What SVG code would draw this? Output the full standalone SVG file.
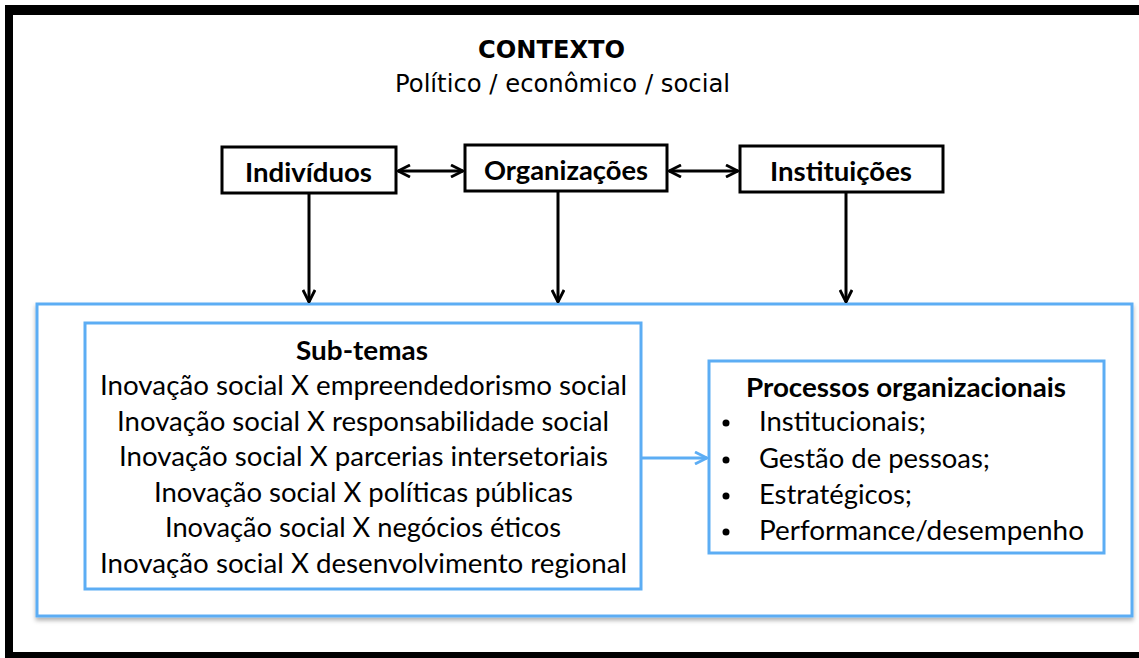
<svg xmlns="http://www.w3.org/2000/svg" width="1139" height="658" viewBox="0 0 1139 658">
<style>
.frame{fill:#000}
.node{fill:#fff;stroke:#000;stroke-width:3}
.blue{fill:#fff;stroke:#5cadf4;stroke-width:3}
.lbl{font-family:Lato,"Open Sans",sans-serif;font-weight:bold;font-size:26px;fill:#000}
.body{font-family:Lato,"Open Sans",sans-serif;font-size:27px;fill:#000}
.head{font-family:"DejaVu Sans",sans-serif;font-size:24px;fill:#000}
.conn{stroke:#000;stroke-width:3;fill:none}
.bconn{stroke:#5cadf4;stroke-width:3;fill:none}
</style>
<defs>
<marker id="ah" viewBox="0 0 14 14" refX="13" refY="7" markerWidth="14" markerHeight="14" markerUnits="userSpaceOnUse" orient="auto-start-reverse">
<path d="M1,1 L13,7 L1,13" fill="none" stroke="#000" stroke-width="2.8"/>
</marker>
<marker id="bh" viewBox="0 0 14 14" refX="13" refY="7" markerWidth="14" markerHeight="14" markerUnits="userSpaceOnUse" orient="auto">
<path d="M1,1 L13,7 L1,13" fill="none" stroke="#5cadf4" stroke-width="2.8"/>
</marker>
<filter id="sh" x="-5%" y="-5%" width="110%" height="115%">
<feDropShadow dx="0" dy="3" stdDeviation="2" flood-color="#000" flood-opacity="0.3"/>
</filter>
</defs>
<rect width="1139" height="658" fill="#fff"/>
<g id="frame">
<rect class="frame" x="5" y="5" width="1134" height="10"/>
<rect class="frame" x="5" y="5" width="8" height="653"/>
<rect class="frame" x="5" y="652" width="1134" height="6"/>
</g>
<g id="contexto">
<text class="head" x="478" y="58" font-weight="bold" textLength="147" lengthAdjust="spacingAndGlyphs">CONTEXTO</text>
<text class="head" x="395" y="92" textLength="335" lengthAdjust="spacingAndGlyphs">Político / econômico / social</text>
</g>
<g id="outer">
<rect class="blue" x="37" y="304" width="1095" height="312" filter="url(#sh)"/>
</g>
<g id="individuos">
<rect class="node" x="222" y="147" width="174" height="46"/>
<text class="lbl" x="245" y="182" textLength="127" lengthAdjust="spacingAndGlyphs">Indivíduos</text>
</g>
<g id="organizacoes">
<rect class="node" x="465" y="145" width="202" height="46"/>
<text class="lbl" x="484" y="180" textLength="164" lengthAdjust="spacingAndGlyphs">Organizações</text>
</g>
<g id="instituicoes">
<rect class="node" x="740" y="146" width="203" height="46"/>
<text class="lbl" x="770" y="181" textLength="142" lengthAdjust="spacingAndGlyphs">Instituições</text>
</g>
<g id="subtemas">
<rect class="blue" x="85" y="323" width="556" height="266"/>
<text class="lbl" x="296" y="360" textLength="132" lengthAdjust="spacingAndGlyphs">Sub-temas</text>
<text class="body" x="100" y="395" textLength="527" lengthAdjust="spacingAndGlyphs">Inovação social X empreendedorismo social</text>
<text class="body" x="117" y="431" textLength="492" lengthAdjust="spacingAndGlyphs">Inovação social X responsabilidade social</text>
<text class="body" x="119" y="466" textLength="489" lengthAdjust="spacingAndGlyphs">Inovação social X parcerias intersetoriais</text>
<text class="body" x="154" y="502" textLength="419" lengthAdjust="spacingAndGlyphs">Inovação social X políticas públicas</text>
<text class="body" x="165" y="537" textLength="396" lengthAdjust="spacingAndGlyphs">Inovação social X negócios éticos</text>
<text class="body" x="100" y="573" textLength="527" lengthAdjust="spacingAndGlyphs">Inovação social X desenvolvimento regional</text>
</g>
<g id="processos">
<rect class="blue" x="709" y="361" width="395" height="192"/>
<text class="lbl" x="746" y="397" textLength="320" lengthAdjust="spacingAndGlyphs">Processos organizacionais</text>
<g class="body">
<circle cx="726" cy="423" r="3.5"/>
<circle cx="726" cy="460" r="3.5"/>
<circle cx="726" cy="496" r="3.5"/>
<circle cx="726" cy="532" r="3.5"/>
<text x="759" y="431" textLength="167" lengthAdjust="spacingAndGlyphs">Institucionais;</text>
<text x="759" y="468" textLength="231" lengthAdjust="spacingAndGlyphs">Gestão de pessoas;</text>
<text x="759" y="504" textLength="153" lengthAdjust="spacingAndGlyphs">Estratégicos;</text>
<text x="759" y="540" textLength="325" lengthAdjust="spacingAndGlyphs">Performance/desempenho</text>
</g>
</g>
<g id="connectors">
<line class="conn" x1="398" y1="171" x2="463" y2="171" marker-start="url(#ah)" marker-end="url(#ah)"/>
<line class="conn" x1="669" y1="171" x2="738" y2="171" marker-start="url(#ah)" marker-end="url(#ah)"/>
<line class="conn" x1="309" y1="193" x2="309" y2="302" marker-end="url(#ah)"/>
<line class="conn" x1="558" y1="191" x2="558" y2="302" marker-end="url(#ah)"/>
<line class="conn" x1="846" y1="192" x2="846" y2="302" marker-end="url(#ah)"/>
<line class="bconn" x1="642" y1="458" x2="707" y2="458" marker-end="url(#bh)"/>
</g>
</svg>
